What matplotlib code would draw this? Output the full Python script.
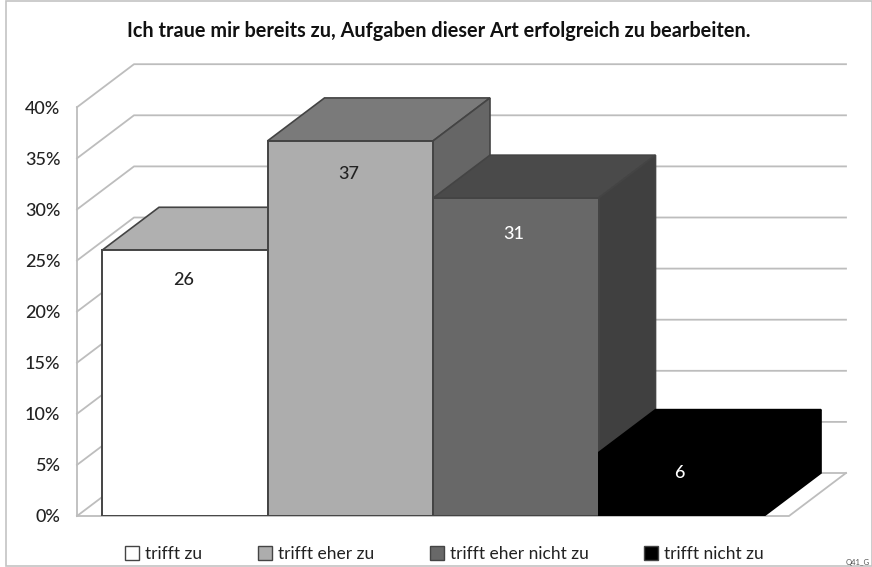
import matplotlib
matplotlib.use('Agg')
import matplotlib.pyplot as plt
from matplotlib.patches import Patch, Rectangle

plt.rcParams['font.family'] = ['Lato', 'DejaVu Sans']

categories = ['trifft zu', 'trifft eher zu', 'trifft eher nicht zu', 'trifft nicht zu']
values = [26.0, 36.7, 31.1, 6.2]
labels = ['26', '37', '31', '6']
yticks = [0, 5, 10, 15, 20, 25, 30, 35, 40]
yticklabels = ['0%', '5%', '10%', '15%', '20%', '25%', '30%', '35%', '40%']

front_cols = ['#ffffff', '#adadad', '#686868', '#000000']
top_cols = ['#b0b0b0', '#7a7a7a', '#4a4a4a', '#000000']
side_cols = ['#8a8a8a', '#666666', '#404040', '#000000']
text_cols = ['#222222', '#222222', '#ffffff', '#ffffff']
edge_cols = ['#444444', '#444444', '#444444', '#000000']
label_drop = [2.9, 3.2, 3.5, 2.0]

W, H = 872, 567
# pixel layout of the plot box
left, right, top, bottom = 77, 846, 65, 516
px_cat = 165.5
px_pct = 51.1 / 5
x0 = -(102 - 77) / px_cat
x1 = x0 + (right - left) / px_cat
y1 = (bottom - top) / px_pct
dx = 57 / px_cat
dy = 43 / px_pct
grid = '#bdbdbd'

fig = plt.figure(figsize=(W / 100, H / 100), dpi=100)
ax = fig.add_axes([left / W, 1 - bottom / H, (right - left) / W, (bottom - top) / H])
ax.set_xlim(x0, x1)
ax.set_ylim(0, y1)
ax.patch.set_visible(False)
for s in ['top', 'right', 'bottom', 'left']:
    ax.spines[s].set_visible(False)
ax.set_xticks([])
ax.set_yticks(yticks)
ax.set_yticklabels(yticklabels, fontsize=13, fontweight='medium', color='#222222')
ax.tick_params(axis='y', length=0, pad=12)

# walls and floor
ax.plot([x0, x0], [0, 40], color=grid, lw=1.3, clip_on=False, zorder=1)
for t in yticks:
    ax.plot([x0, x0 + dx, x1], [t, t + dy, t + dy], color=grid, lw=1.3, clip_on=False, zorder=1)
floor_r = len(values) + 25 / px_cat
ax.plot([x0, floor_r, x1], [0, 0, dy], color=grid, lw=1.3, clip_on=False, zorder=1)

# bars, left to right so each one covers the previous
for i, v in enumerate(values):
    ec = edge_cols[i]
    ax.fill([i, i + dx, i + 1 + dx, i + 1], [v, v + dy, v + dy, v],
            facecolor=top_cols[i], edgecolor=ec, lw=1.2, zorder=3)
    ax.fill([i + 1, i + 1 + dx, i + 1 + dx, i + 1], [0, dy, v + dy, v],
            facecolor=side_cols[i], edgecolor=ec, lw=1.2, zorder=3)
    ax.fill([i, i + 1, i + 1, i], [0, 0, v, v],
            facecolor=front_cols[i], edgecolor=ec, lw=1.4, zorder=3)
    ax.text(i + 0.49, v - label_drop[i], labels[i], ha='center', va='center',
            fontsize=13, fontweight='medium', color=text_cols[i], zorder=4)

fig.add_artist(Rectangle((5.5 / W, 1 - 565.5 / H), 866 / W, 565 / H, fill=False,
                         edgecolor='#c4c4c4', lw=1.2, transform=fig.transFigure))
fig.text(439 / W, 1 - 31 / H, 'Ich traue mir bereits zu, Aufgaben dieser Art erfolgreich zu bearbeiten.',
         ha='center', va='center', fontsize=14.3, fontweight='bold', color='#111111')
fig.text(846 / W, 1 - 562 / H, 'Q41_G', fontsize=5.5, color='#555555', ha='left', va='center')

handles = [Patch(facecolor=c, edgecolor='#444444', lw=1) for c in front_cols]
fig.legend(handles, categories, ncol=4, frameon=False, fontsize=12.5,
           loc='center', bbox_to_anchor=(444.5 / W, 1 - 554 / H),
           handlelength=0.8, handleheight=0.8, handletextpad=0.35, columnspacing=3.2,
           labelcolor='#222222')

fig.savefig('out.png', dpi=100)
